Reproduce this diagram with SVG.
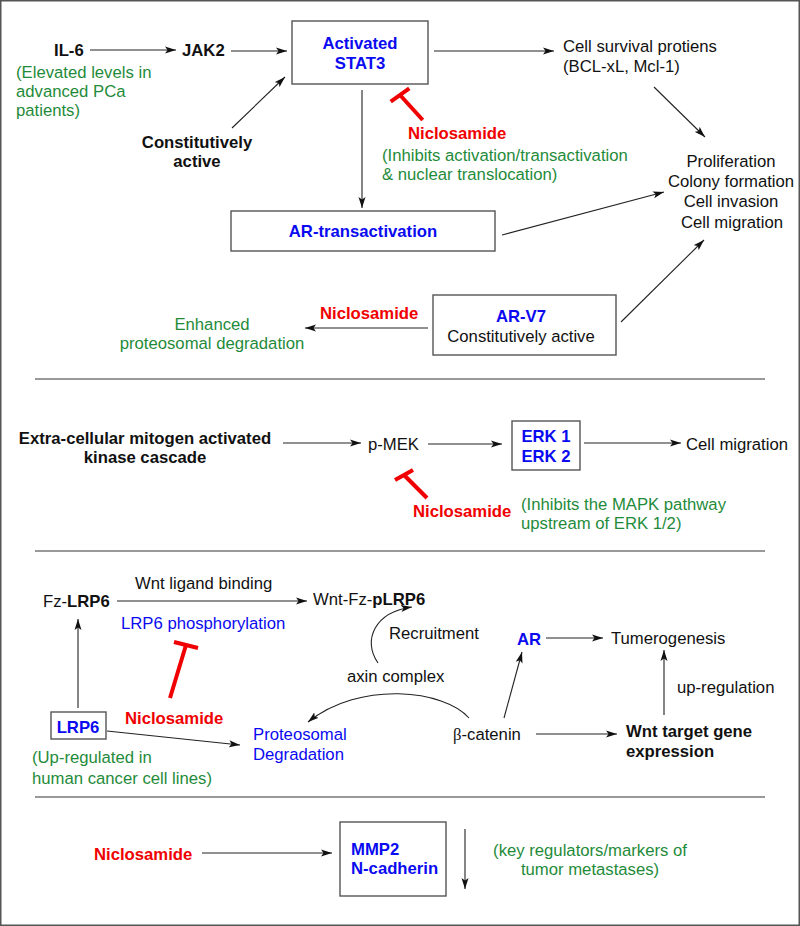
<svg xmlns="http://www.w3.org/2000/svg" width="800" height="926" viewBox="0 0 800 926">
<defs>
<marker id="ah" markerWidth="12" markerHeight="8" refX="11" refY="4" orient="auto" markerUnits="userSpaceOnUse">
<path d="M0,0.5 L11,4 L0,7.5 L2.5,4 Z" fill="#111"/>
</marker>
</defs>
<style>
text{font-family:"Liberation Sans",Arial,sans-serif;font-size:16.7px;fill:#111}
.b{font-weight:bold}
.blue{fill:#0a0af0}
.red{fill:#f00000}
.green{fill:#1f8b3a}
.mid{text-anchor:middle}
.box{fill:#fff;stroke:#555;stroke-width:1.4}
.ar{fill:none;stroke:#222;stroke-width:1.1;marker-end:url(#ah)}
.inh{fill:none;stroke:#f00000;stroke-width:4}
.sep{stroke:#777;stroke-width:1.5}
</style>
<rect x="0.75" y="0.75" width="798.5" height="924.5" fill="#fff" stroke="#555" stroke-width="1.5"/>

<g id="connectors">
<line class="ar" x1="90" y1="50" x2="176" y2="50"/>
<line class="ar" x1="231" y1="51" x2="287" y2="51"/>
<line class="ar" x1="232" y1="128" x2="285" y2="77"/>
<line class="ar" x1="434" y1="51" x2="554" y2="51"/>
<line class="ar" x1="654" y1="87" x2="705" y2="137"/>
<line class="ar" x1="362" y1="90" x2="362" y2="208"/>
<line class="ar" x1="502" y1="235" x2="664" y2="192"/>
<line class="ar" x1="621" y1="322" x2="704" y2="240"/>
<line class="ar" x1="428" y1="328" x2="305" y2="328"/>
<line class="ar" x1="283" y1="443" x2="361" y2="443"/>
<line class="ar" x1="428" y1="444" x2="502" y2="444"/>
<line class="ar" x1="584" y1="443" x2="681" y2="443"/>
<line class="ar" x1="117" y1="601" x2="307" y2="601"/>
<line class="ar" x1="78" y1="708" x2="78" y2="619"/>
<line class="ar" x1="107" y1="731" x2="240" y2="745"/>
<path class="ar" d="M469,718 C445,690 360,680 308,722"/>
<path class="ar" d="M378,663 C362,640 375,612 412,607"/>
<line class="ar" x1="504" y1="718" x2="522" y2="652"/>
<line class="ar" x1="546" y1="638" x2="603" y2="638"/>
<line class="ar" x1="536" y1="734" x2="617" y2="734"/>
<line class="ar" x1="664" y1="715" x2="664" y2="650"/>
<line class="ar" x1="202" y1="853" x2="332" y2="853"/>
<line class="ar" x1="465" y1="829" x2="465" y2="889"/>
<g id="inhibitions">
<line class="inh" x1="390.7" y1="101.7" x2="409.3" y2="88.3"/>
<line class="inh" x1="400" y1="95" x2="422.7" y2="120"/>
<line class="inh" x1="395" y1="480" x2="413" y2="470"/>
<line class="inh" x1="404" y1="475" x2="427" y2="498"/>
<line class="inh" x1="174" y1="642" x2="198" y2="648"/>
<line class="inh" x1="186" y1="645" x2="170" y2="698"/>
</g>
</g>

<g id="separators">
<line class="sep" x1="35" y1="379" x2="765" y2="379"/>
<line class="sep" x1="35" y1="551" x2="765" y2="551"/>
<line class="sep" x1="35" y1="797" x2="765" y2="797"/>
</g>

<g id="il6"><text class="b" x="54" y="56">IL-6</text>
<text class="green" x="16" y="78">(Elevated levels in</text>
<text class="green" x="16" y="97">advanced PCa</text>
<text class="green" x="16" y="116">patients)</text></g>
<g id="jak2"><text class="b" x="182" y="56">JAK2</text></g>
<g id="stat3"><rect class="box" x="292" y="21" width="136" height="63"/>
<text class="b blue mid" x="360" y="49">Activated</text>
<text class="b blue mid" x="360" y="69">STAT3</text></g>
<g id="const1"><text class="b mid" x="197" y="148">Constitutively</text>
<text class="b mid" x="197" y="167">active</text></g>
<g id="survival"><text x="563" y="52">Cell survival protiens</text>
<text x="563" y="72">(BCL-xL, Mcl-1)</text></g>
<g id="nic1"><text class="b red" x="408" y="139">Niclosamide</text>
<text class="green" x="382" y="161">(Inhibits activation/transactivation</text>
<text class="green" x="382" y="180">&amp; nuclear translocation)</text></g>
<g id="prolif"><text class="mid" x="731" y="167">Proliferation</text>
<text class="mid" x="731" y="187">Colony formation</text>
<text class="mid" x="731" y="207">Cell invasion</text>
<text class="mid" x="732" y="228">Cell migration</text></g>
<g id="artrans"><rect class="box" x="231" y="211" width="264" height="40"/>
<text class="b blue mid" x="363" y="237">AR-transactivation</text></g>
<g id="arv7"><rect class="box" x="433" y="295" width="183" height="60"/>
<text class="b blue mid" x="521" y="322">AR-V7</text>
<text class="mid" x="521" y="342">Constitutively active</text></g>
<g id="nic2"><text class="b red" x="320" y="319">Niclosamide</text></g>
<g id="enhanced"><text class="green mid" x="212" y="330">Enhanced</text>
<text class="green mid" x="212" y="349">proteosomal degradation</text></g>

<g id="extra"><text class="b mid" x="145" y="444">Extra-cellular mitogen activated</text>
<text class="b mid" x="145" y="463">kinase cascade</text></g>
<g id="pmek"><text x="368" y="450">p-MEK</text></g>
<g id="erk"><rect class="box" x="512" y="421" width="68" height="49"/>
<text class="b blue mid" x="546" y="442">ERK 1</text>
<text class="b blue mid" x="546" y="462">ERK 2</text></g>
<g id="cellmig"><text x="686" y="450">Cell migration</text></g>
<g id="nic3"><text class="b red" x="413" y="517">Niclosamide</text>
<text class="green" x="521" y="510">(Inhibits the MAPK pathway</text>
<text class="green" x="521" y="529">upstream of ERK 1/2)</text></g>

<g id="fzlrp6"><text x="43" y="607">Fz-<tspan class="b">LRP6</tspan></text></g>
<g id="wntlig"><text x="135" y="589">Wnt ligand binding</text>
<text class="blue" x="121" y="629">LRP6 phosphorylation</text></g>
<g id="wntfz"><text x="313" y="605">Wnt-Fz-<tspan class="b">pLRP6</tspan></text></g>
<g id="lrp6"><rect class="box" x="51" y="712" width="55" height="27"/>
<text class="b blue mid" x="78" y="733">LRP6</text>
<text class="green" x="32" y="763">(Up-regulated in</text>
<text class="green" x="32" y="784">human cancer cell lines)</text></g>
<g id="nic4"><text class="b red" x="125" y="724">Niclosamide</text></g>
<g id="proteo"><text class="blue" x="253" y="740">Proteosomal</text>
<text class="blue" x="253" y="760">Degradation</text></g>
<g id="axin"><text x="347" y="682">axin complex</text></g>
<g id="recruit"><text x="389" y="639">Recruitment</text></g>
<g id="ar"><text class="b blue" x="517" y="645">AR</text></g>
<g id="tumer"><text x="611" y="644">Tumerogenesis</text></g>
<g id="bcat"><text x="453" y="740"><tspan style="font-family:'Liberation Serif',serif">β</tspan>-catenin</text></g>
<g id="wnttarget"><text class="b" x="626" y="737">Wnt target gene</text>
<text class="b" x="626" y="757">expression</text></g>
<g id="upreg"><text x="677" y="693">up-regulation</text></g>

<g id="nic5"><text class="b red" x="94" y="860">Niclosamide</text></g>
<g id="mmp2"><rect class="box" x="340" y="822" width="106" height="74"/>
<text class="b blue" x="351" y="855">MMP2</text>
<text class="b blue" x="351" y="874">N-cadherin</text></g>
<g id="keyreg"><text class="green mid" x="590" y="856">(key regulators/markers of</text>
<text class="green mid" x="590" y="875">tumor metastases)</text></g>
</svg>
